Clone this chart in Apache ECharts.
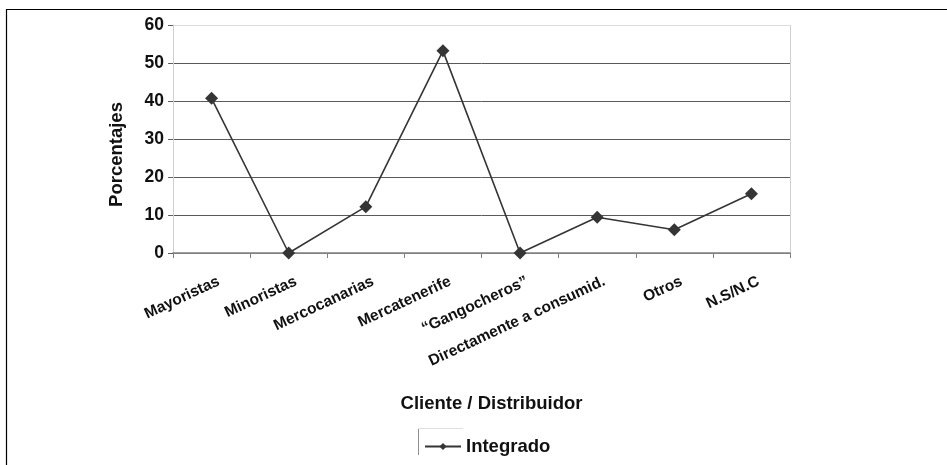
<!DOCTYPE html>
<html>
<head>
<meta charset="utf-8">
<script src="https://cdn.jsdelivr.net/npm/echarts@6/dist/echarts.min.js"></script>
<style>
  html, body { margin: 0; padding: 0; background: #fff; }
  #chart { width: 947px; height: 465px; }
</style>
</head>
<body>
<div id="chart"></div>
<script>
// Client / distributor categories and percentage values
const categories = ['Mayoristas', 'Minoristas', 'Mercocanarias', 'Mercatenerife',
  '\u201cGangocheros\u201d', 'Directamente a consumid.', 'Otros', 'N.S/N.C'];
const integrado = [40.7, 0, 12.2, 53.2, 0, 9.4, 6.1, 15.6];
const yTicks = [0, 10, 20, 30, 40, 50, 60];

const FONT = '"Liberation Sans", Arial, Helvetica, sans-serif';
const chart = echarts.init(document.getElementById('chart'), null, { renderer: 'canvas' });

chart.setOption({
  animation: false,
  backgroundColor: '#fff',
  textStyle: { fontFamily: FONT },
  grid: { left: 173, right: 157, top: 25, bottom: 212, containLabel: false },
  xAxis: {
    type: 'category',
    data: categories,
    boundaryGap: true,
    name: 'Cliente / Distribuidor',
    nameLocation: 'middle',
    nameGap: 141,
    nameTextStyle: {
      fontFamily: FONT, fontWeight: 'bold', fontSize: 18.5, color: '#111',
      padding: [0, 0, 0, 20]
    },
    axisLine: { lineStyle: { color: '#808080', width: 1.5 } },
    axisTick: { show: true, interval: 0, length: 5, lineStyle: { color: '#808080' } },
    axisLabel: {
      interval: 0, rotate: 25, margin: 31,
      padding: [0, -8, 0, 0],
      fontFamily: FONT, fontWeight: 'bold', fontSize: 15.5, color: '#111'
    },
    splitLine: { show: false }
  },
  yAxis: {
    type: 'value',
    min: yTicks[0],
    max: yTicks[yTicks.length - 1],
    interval: 10,
    name: 'Porcentajes',
    nameLocation: 'middle',
    nameGap: 47,
    nameTextStyle: {
      fontFamily: FONT, fontWeight: 'bold', fontSize: 18.5, color: '#111',
      padding: [0, 31, 0, 0]
    },
    axisLine: { show: true, lineStyle: { color: '#d0d0d0' } },
    axisTick: { show: true, length: 5, lineStyle: { color: '#606060' } },
    axisLabel: { margin: 9, fontFamily: FONT, fontWeight: 'bold', fontSize: 17.5, color: '#111' },
    splitLine: {
      show: true,
      lineStyle: { color: ['#808080', '#5a5a5a', '#5a5a5a', '#5a5a5a', '#5a5a5a', '#5a5a5a', '#dcdcdc'], width: 1 }
    }
  },
  legend: {
    data: ['Integrado'],
    left: 419,
    top: 432,
    itemWidth: 36,
    itemHeight: 9,
    textStyle: { fontFamily: FONT, fontWeight: 'bold', fontSize: 18.5, color: '#111' }
  },
  series: [{
    name: 'Integrado',
    type: 'line',
    data: integrado,
    symbol: 'diamond',
    symbolSize: 13,
    lineStyle: { color: '#353535', width: 1.6 },
    itemStyle: { color: '#353535' }
  }],
  graphic: [
    // outer frame (top and left edges)
    { type: 'line', shape: { x1: 6, y1: 9.5, x2: 947, y2: 9.5 }, style: { stroke: '#000', lineWidth: 1.2 } },
    { type: 'line', shape: { x1: 6.5, y1: 9, x2: 6.5, y2: 465 }, style: { stroke: '#000', lineWidth: 1.2 } },
    // plot area right border
    { type: 'line', shape: { x1: 790.5, y1: 25, x2: 790.5, y2: 253 }, style: { stroke: '#d0d0d0', lineWidth: 1 } },
    // legend box edges
    { type: 'line', shape: { x1: 418.5, y1: 428, x2: 418.5, y2: 455 }, style: { stroke: '#909090', lineWidth: 1 } },
    { type: 'line', shape: { x1: 418, y1: 428.5, x2: 463, y2: 428.5 }, style: { stroke: '#e0e0e0', lineWidth: 1 } }
  ]
});
</script>
</body>
</html>
